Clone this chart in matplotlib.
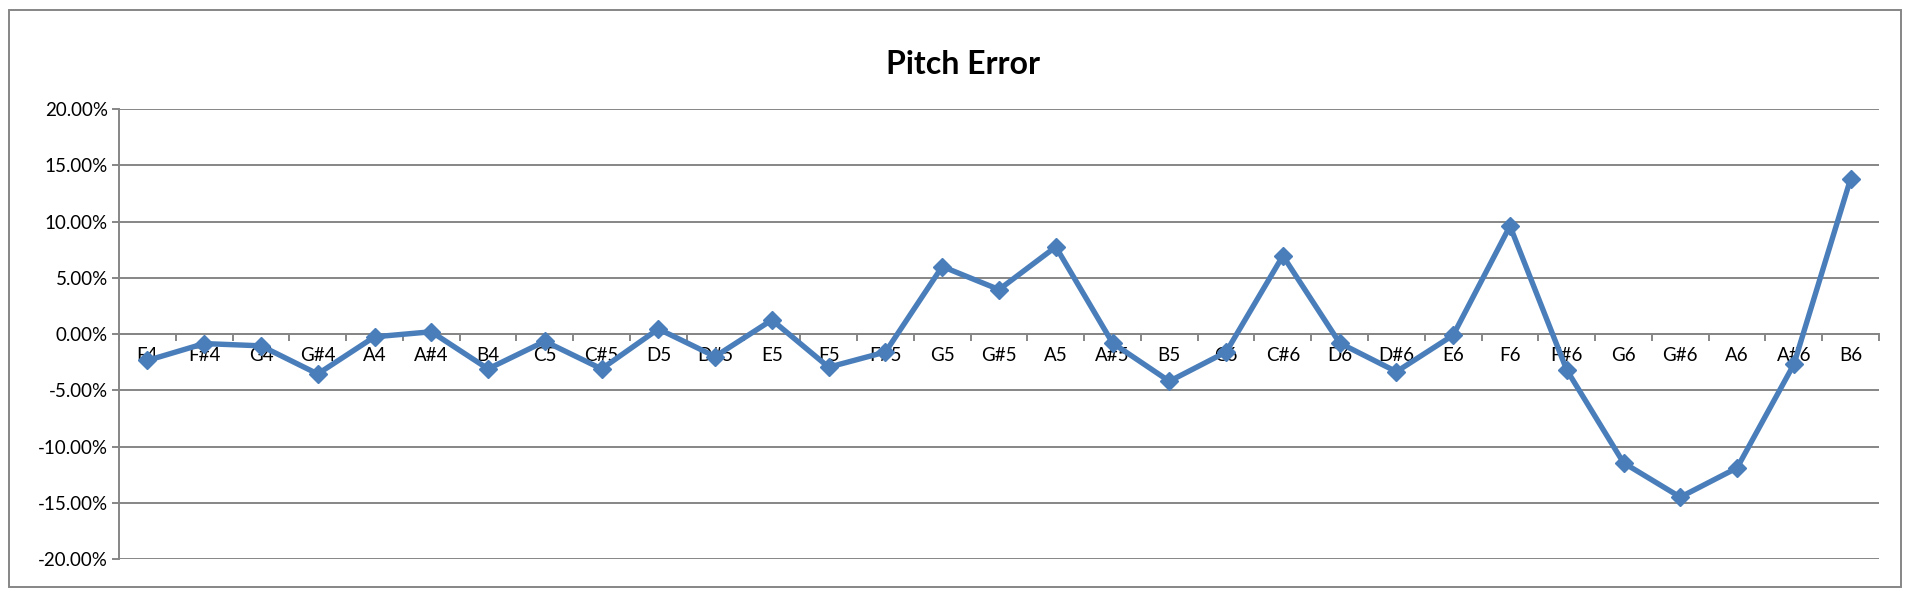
import matplotlib
matplotlib.use('Agg')
from matplotlib import pyplot as plt
from matplotlib.patches import Rectangle
from matplotlib.ticker import FuncFormatter, FixedLocator
import numpy as np

notes = ['F4', 'F#4', 'G4', 'G#4', 'A4', 'A#4', 'B4', 'C5', 'C#5', 'D5', 'D#5',
         'E5', 'F5', 'F#5', 'G5', 'G#5', 'A5', 'A#5', 'B5', 'C6', 'C#6', 'D6',
         'D#6', 'E6', 'F6', 'F#6', 'G6', 'G#6', 'A6', 'A#6', 'B6']
error_pct = [-2.35, -0.85, -1.05, -3.55, -0.25, 0.2, -3.1, -0.65, -3.1, 0.45, -2.0,
             1.25, -2.95, -1.6, 6.0, 3.95, 7.75, -0.8, -4.2, -1.6, 6.95, -0.8,
             -3.35, -0.1, 9.6, -3.2, -11.45, -14.5, -11.9, -2.7, 13.8]
y_ticks = [-20, -15, -10, -5, 0, 5, 10, 15, 20]

plt.rcParams['font.family'] = ['Lato', 'DejaVu Sans']
grey = '#868686'
blue = '#4a7ebb'

fig = plt.figure(figsize=(19.26, 6.04), dpi=100)
ax = fig.add_axes([0.0618, 0.0745, 0.9138, 0.745])

x = np.arange(len(notes))
ax.plot(x, error_pct, color=blue, lw=3.9, marker='D', markersize=9,
        markerfacecolor=blue, markeredgecolor=blue, solid_joinstyle='round', zorder=3)

ax.set_xlim(-0.5, len(notes) - 0.5)
ax.set_ylim(-20, 20)
ax.set_yticks(y_ticks)
ax.yaxis.set_major_formatter(FuncFormatter(lambda v, p: f'{v:.2f}%'))
ax.grid(axis='y', color=grey, lw=1.4)
ax.set_axisbelow(True)

ax.set_xticks(x)
ax.set_xticklabels(notes)
ax.xaxis.set_minor_locator(FixedLocator(np.arange(-0.5, len(notes), 1.0)))
ax.tick_params(axis='x', which='major', length=0, pad=9, labelsize=13.5)
ax.tick_params(axis='x', which='minor', length=5, color=grey, width=1.4, direction='out')
ax.tick_params(axis='y', length=5, color=grey, width=1.4, labelsize=13.5, pad=3)

for s in ['top', 'right']:
    ax.spines[s].set_visible(False)
ax.spines['bottom'].set_position(('data', 0))
ax.spines['bottom'].set_color(grey)
ax.spines['bottom'].set_linewidth(1.4)
ax.spines['left'].set_color(grey)
ax.spines['left'].set_linewidth(1.4)

fig.text(0.5, 0.894, 'Pitch Error', ha='center', va='center',
         fontsize=23, fontweight='bold')

fig.patches.append(Rectangle((9 / 1926, 17 / 604), 1892 / 1926, 577 / 604,
                             transform=fig.transFigure, fill=False,
                             edgecolor=grey, lw=1.4))

fig.savefig('out.png', dpi=100)
